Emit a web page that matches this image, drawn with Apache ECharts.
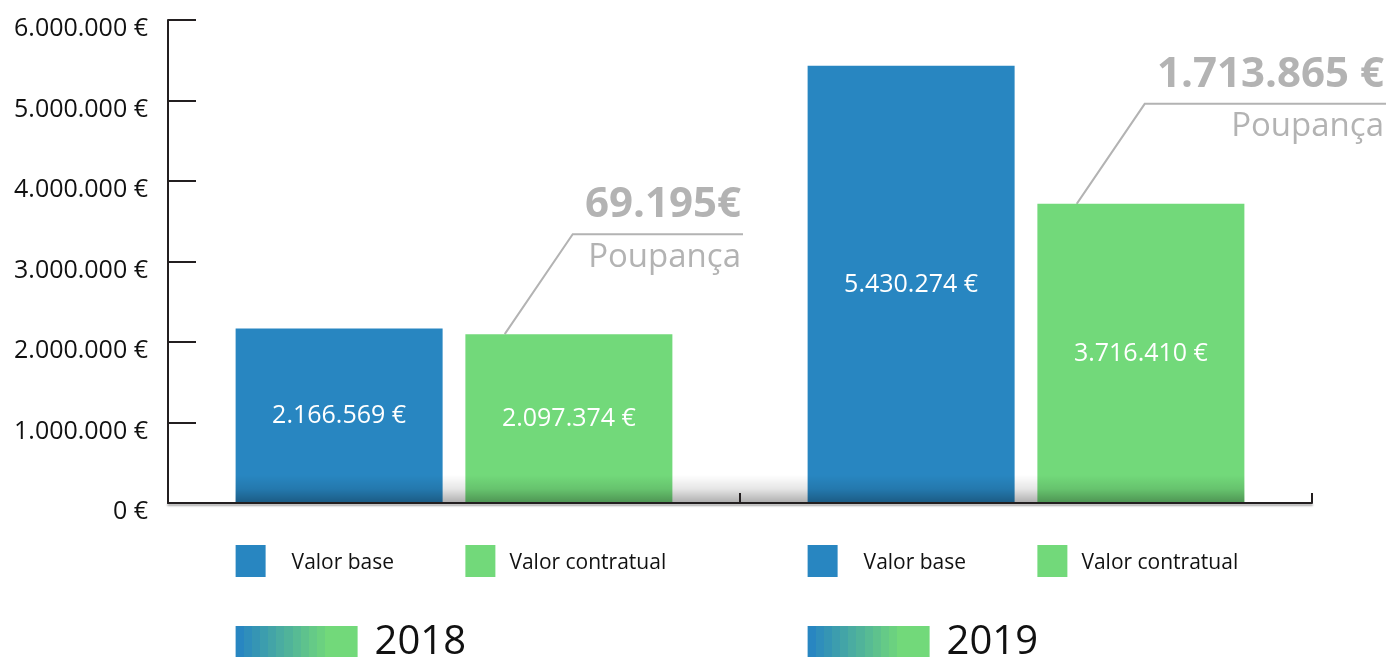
<!DOCTYPE html>
<html>
<head>
<meta charset="utf-8">
<script src="https://cdn.jsdelivr.net/npm/echarts@6/dist/echarts.min.js"></script>
<style>
  html, body { margin: 0; padding: 0; background: #fff; }
  #chart { width: 1389px; height: 657px; }
</style>
</head>
<body>
<div id="chart"></div>
<script>
const categories = ['2018', '2019']
const seriesNames = ['Valor base', 'Valor contratual']
const baseValues = [2166569, 5430274]
const contractValues = [2097374, 3716410]
const savingsLabels = ['69.195€', '1.713.865 €']
const savingsCaption = 'Poupança'
const yMin = 0
const yMax = 6000000
const yStep = 1000000

const BLUE = '#2886c1'
const GREEN = '#72d97a'
const GREY = '#b3b3b3'
const INK = '#231f20'
const FONT = '"Open Sans", "Noto Sans", sans-serif'

function euro(v) {
  return String(v).replace(/\B(?=(\d{3})+(?!\d))/g, '.') + ' €'
}

const chart = echarts.init(document.getElementById('chart'))

const barLabel = {
  show: true,
  position: 'inside',
  color: '#fff',
  fontFamily: FONT,
  fontSize: 25,
  formatter: p => euro(p.value)
}

chart.setOption({
  animation: false,
  grid: { left: 168, right: 77, top: 20, bottom: 154 },
  xAxis: {
    type: 'category',
    data: categories,
    z: 10,
    axisLine: {
      lineStyle: { color: INK, width: 2, shadowColor: 'rgba(0,0,0,0.35)', shadowOffsetY: 2, shadowBlur: 2 }
    },
    axisTick: { show: true, interval: 0, inside: true, length: 10, lineStyle: { color: INK, width: 2 } },
    axisLabel: { show: false }
  },
  yAxis: {
    type: 'value',
    min: yMin,
    max: yMax,
    interval: yStep,
    z: 10,
    axisLine: { show: true, lineStyle: { color: INK, width: 2 } },
    axisTick: { show: true, inside: true, length: 28, lineStyle: { color: INK, width: 2 } },
    splitLine: { show: false },
    axisLabel: {
      color: '#111',
      fontFamily: FONT,
      fontSize: 25,
      lineHeight: 18,
      margin: 20,
      verticalAlign: 'top',
      formatter: v => euro(v)
    }
  },
  series: [
    {
      name: seriesNames[0],
      type: 'bar',
      data: baseValues,
      barWidth: 207,
      barGap: '11%',
      itemStyle: { color: BLUE },
      label: barLabel
    },
    {
      name: seriesNames[1],
      type: 'bar',
      data: contractValues,
      barWidth: 207,
      itemStyle: { color: GREEN },
      label: barLabel
    }
  ]
})

// bar rectangles as laid out by ECharts
function barRect(s, i) {
  const l = chart.getModel().getSeriesByIndex(s).getData().getItemLayout(i)
  return { x: l.x, w: l.width, top: Math.min(l.y, l.y + l.height), bottom: Math.max(l.y, l.y + l.height) }
}

function steppedGradient(steps) {
  const a = echarts.color.parse(BLUE)
  const b = echarts.color.parse(GREEN)
  const stops = []
  const span = 0.8
  for (let k = 0; k < steps; k++) {
    const t = k / (steps - 1)
    const c = `rgb(${Math.round(a[0] + (b[0] - a[0]) * t)},${Math.round(a[1] + (b[1] - a[1]) * t)},${Math.round(a[2] + (b[2] - a[2]) * t)})`
    stops.push({ offset: k / steps * span, color: c })
    stops.push({ offset: (k + 1) / steps * span, color: c })
  }
  stops.push({ offset: span, color: GREEN })
  stops.push({ offset: 1, color: GREEN })
  return new echarts.graphic.LinearGradient(0, 0, 1, 0, stops)
}

const graphics = []
const seriesColors = [BLUE, GREEN]
const textGaps = [26, 14]
const annotEnd = [743, 1386]

// soft shadow under the bars
const first = barRect(0, 0)
const last = barRect(1, categories.length - 1)
graphics.push({
  type: 'rect',
  z: 5,
  silent: true,
  shape: { x: first.x, y: first.bottom - 28, width: last.x + last.w - first.x, height: 28 },
  style: {
    fill: new echarts.graphic.LinearGradient(0, 0, 0, 1, [
      { offset: 0, color: 'rgba(0,0,0,0)' },
      { offset: 0.5, color: 'rgba(0,0,0,0.1)' },
      { offset: 1, color: 'rgba(0,0,0,0.32)' }
    ])
  }
})

categories.forEach((cat, i) => {
  // legend blocks under each year
  seriesNames.forEach((name, s) => {
    const r = barRect(s, i)
    graphics.push({ type: 'rect', shape: { x: r.x, y: 545, width: 30, height: 32 }, style: { fill: seriesColors[s] } })
    graphics.push({
      type: 'text', x: r.x + 30 + textGaps[s], y: 563,
      style: { text: name, fill: '#111', font: '21px ' + FONT, align: 'left', verticalAlign: 'middle' }
    })
  })

  // year label with stepped gradient box
  const b = barRect(0, i)
  graphics.push({ type: 'rect', shape: { x: b.x, y: 626, width: 122, height: 31 }, style: { fill: steppedGradient(12) } })
  graphics.push({
    type: 'text', x: b.x + 139, y: 643,
    style: { text: cat, fill: '#111', font: '40px ' + FONT, align: 'left', verticalAlign: 'middle' }
  })

  // savings callout from the contract bar
  const g = barRect(1, i)
  const ax = g.x + g.w * 0.19
  const ay = g.top
  const ex = ax + 68
  const ey = ay - 100
  graphics.push({
    type: 'polyline',
    shape: { points: [[ax, ay], [ex, ey], [annotEnd[i], ey]] },
    style: { stroke: GREY, lineWidth: 2, fill: null }
  })
  graphics.push({
    type: 'text', x: annotEnd[i] - 2, y: ey - 29,
    style: { text: savingsLabels[i], fill: GREY, font: 'bold 42px ' + FONT, align: 'right', verticalAlign: 'middle' }
  })
  graphics.push({
    type: 'text', x: annotEnd[i] - 2, y: ey + 23,
    style: { text: savingsCaption, fill: GREY, font: '33px ' + FONT, align: 'right', verticalAlign: 'middle' }
  })
})

chart.setOption({ graphic: graphics })
</script>
</body>
</html>
